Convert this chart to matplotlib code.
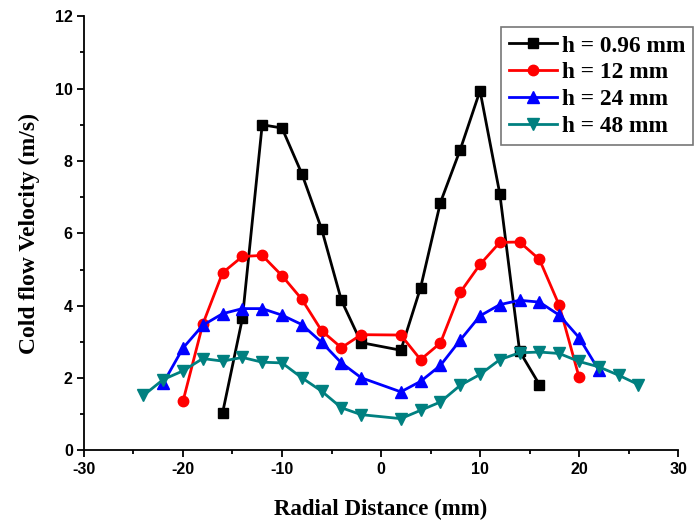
import matplotlib.pyplot as plt
from matplotlib.ticker import MultipleLocator

plt.rcParams['axes.unicode_minus'] = False

# radial positions (mm) for each height
x_096 = [-16, -14, -12, -10, -8, -6, -4, -2, 2, 4, 6, 8, 10, 12, 14, 16]
v_096 = [1.04, 3.65, 9.0, 8.91, 7.65, 6.12, 4.15, 2.98, 2.77, 4.5, 6.85, 8.31, 9.94, 7.09, 2.74, 1.82]

x_12 = [-20, -18, -16, -14, -12, -10, -8, -6, -4, -2, 2, 4, 6, 8, 10, 12, 14, 16, 18, 20]
v_12 = [1.36, 3.49, 4.91, 5.36, 5.39, 4.83, 4.18, 3.31, 2.84, 3.2,
        3.19, 2.51, 2.97, 4.37, 5.14, 5.75, 5.76, 5.28, 4.01, 2.03]

x_24 = [-22, -20, -18, -16, -14, -12, -10, -8, -6, -4, -2, 2, 4, 6, 8, 10, 12, 14, 16, 18, 20, 22]
v_24 = [1.86, 2.83, 3.46, 3.78, 3.92, 3.92, 3.74, 3.48, 2.99, 2.42, 2.01,
        1.62, 1.91, 2.35, 3.05, 3.72, 4.03, 4.15, 4.1, 3.74, 3.12, 2.22]

x_48 = [-24, -22, -20, -18, -16, -14, -12, -10, -8, -6, -4, -2,
        2, 4, 6, 8, 10, 12, 14, 16, 18, 20, 22, 24, 26]
v_48 = [1.52, 1.96, 2.2, 2.54, 2.47, 2.57, 2.44, 2.42, 2.01, 1.64, 1.18, 0.99,
        0.88, 1.11, 1.34, 1.8, 2.1, 2.51, 2.7, 2.72, 2.68, 2.46, 2.31, 2.08, 1.82]

labels = ['h = 0.96 mm', 'h = 12 mm', 'h = 24 mm', 'h = 48 mm']

fig = plt.figure(figsize=(6.94, 5.22), dpi=100)
ax = fig.add_axes([0.121, 0.137, 0.856, 0.832])

ax.plot(x_096, v_096, color='black', marker='s', ms=6.5, lw=2, label=labels[0])
ax.plot(x_12, v_12, color='red', marker='o', ms=7.5, lw=2, label=labels[1])
ax.plot(x_24, v_24, color='blue', marker='^', ms=8, lw=2, label=labels[2])
ax.plot(x_48, v_48, color='#008080', marker='v', ms=8, lw=2, label=labels[3])

ax.set_xlim(-30, 30)
ax.set_ylim(0, 12)
ax.xaxis.set_major_locator(MultipleLocator(10))
ax.xaxis.set_minor_locator(MultipleLocator(5))
ax.yaxis.set_major_locator(MultipleLocator(2))
ax.yaxis.set_minor_locator(MultipleLocator(1))

for s in ['top', 'right']:
    ax.spines[s].set_visible(False)
for s in ['left', 'bottom']:
    ax.spines[s].set_linewidth(1.3)

ax.tick_params(which='major', direction='out', length=5, width=1.3, pad=3)
ax.tick_params(which='minor', direction='out', length=3, width=1.3)
for t in ax.get_xticklabels() + ax.get_yticklabels():
    t.set_fontfamily('Liberation Sans')
    t.set_fontweight('bold')
    t.set_fontsize(11.5)

ax.set_xlabel('Radial Distance (mm)', family='Liberation Serif', weight='bold',
              fontsize=16.5, labelpad=16)
ax.set_ylabel('Cold flow Velocity (m/s)', family='Liberation Serif', weight='bold',
              fontsize=17, labelpad=11)

leg = ax.legend(loc='upper right', bbox_to_anchor=(0.999, 0.948),
                bbox_transform=fig.transFigure, fancybox=False,
                prop={'family': 'Liberation Serif', 'weight': 'bold', 'size': 16.8},
                handlelength=2.05, handletextpad=0.2, labelspacing=0.23,
                borderpad=0.35, borderaxespad=0)
leg.get_frame().set_edgecolor('#555555')
leg.get_frame().set_linewidth(1.2)

plt.savefig('out.png', dpi=100)
